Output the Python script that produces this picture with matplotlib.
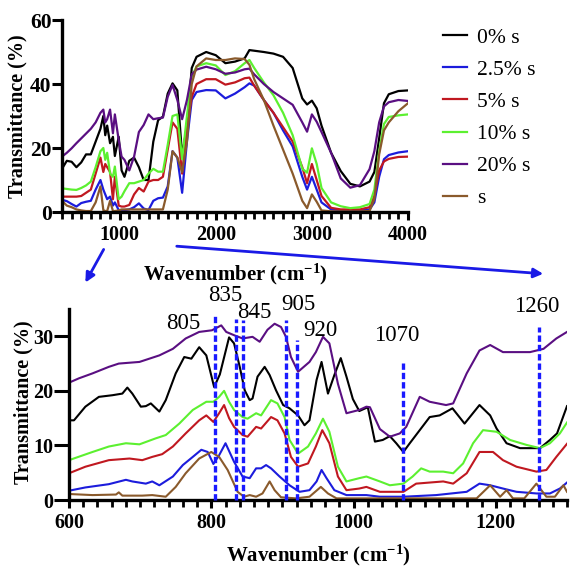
import matplotlib
matplotlib.use("Agg")
import matplotlib.pyplot as plt
from matplotlib.ticker import MultipleLocator

plt.rcParams['font.family'] = ['Liberation Serif', 'DejaVu Serif']
plt.rcParams['mathtext.fontset'] = 'custom'
plt.rcParams['mathtext.rm'] = 'Liberation Serif:bold'
plt.rcParams['mathtext.bf'] = 'Liberation Serif:bold'
plt.rcParams['mathtext.default'] = 'bf'

# ---------------- data ----------------
series_labels = ["0% s", "2.5% s", "5% s", "10% s", "20% s", "s"]
series_colors = ["#000000", "#1c1cdc", "#c01820", "#5cf030", "#5a0f82", "#8a5a2c"]

top_wn = [400, 450, 500, 550, 600, 650, 700, 750, 800, 830, 850, 870, 900, 930, 950, 990,
          1020, 1050, 1100, 1150, 1200, 1250, 1300, 1350, 1400, 1450, 1500, 1550, 1600, 1650,
          1700, 1750, 1800, 1900, 2000, 2100, 2200, 2300, 2350, 2400, 2500, 2600, 2700, 2800,
          2900, 2950, 3000, 3050, 3100, 3200, 3300, 3400, 3500, 3600, 3650, 3700, 3750, 3800,
          3900, 4000]

top_black = [13.5, 16, 15.7, 14, 15.5, 18, 18, 22, 26, 30, 24, 27, 21.5, 23.5, 17.5, 23.5,
             13, 11, 16, 17, 14, 10, 10, 22, 28.7, 29.8, 37, 40.2, 38, 17.5,
             27, 45, 48.5, 50, 49, 46.5, 47, 48, 50.6, 50.4, 50, 49.5, 48.5, 45,
             35.5, 33.6, 34.8, 32.4, 27, 18.5, 12.8, 8.8, 8, 9.5, 12.5, 23, 34, 36.8,
             37.8, 38]
top_blue = [3.8, 3.4, 2.5, 1.7, 2.8, 3.2, 3.5, 7, 10, 7, 5.5, 4, 4.8, 2, 3, 0.6,
            0.6, 0.6, 0.8, 1.5, 2.7, 1.1, 0.6, 3.5, 4.3, 4.5, 8, 19, 17, 6,
            22, 35, 37.5, 38.1, 38, 35.5, 37, 39, 40.2, 39.5, 35, 31, 25.5, 20.5,
            11, 7, 11, 7, 3, 0.8, 0.6, 0.6, 0.6, 0.8, 3, 11, 16.5, 17.8,
            18.6, 19]
top_red = [4.8, 4.8, 4.8, 4.8, 5, 6, 7, 12, 17, 12.5, 15, 14, 12.5, 4, 11, 2,
           1.7, 1.7, 2.2, 5.5, 7.5, 6.4, 9.5, 10, 10, 11, 19.5, 28, 26, 12,
           26, 36, 40, 41.5, 41.5, 39.8, 40.5, 41.8, 42, 39.5, 35, 31, 26.5, 22,
           14, 9, 15, 10, 5, 1.3, 0.8, 0.8, 0.8, 1.5, 5, 13, 15.8, 16.6,
           17.2, 17.3]
top_green = [7.4, 7.2, 7, 6.9, 7.5, 8.3, 9.5, 14, 19, 20, 16.3, 18.5, 12, 11, 14.2, 4,
             4.8, 6.5, 9, 9, 9.5, 10, 12, 13.5, 12.6, 12.6, 21, 30, 30.5, 16.5,
             30, 42.3, 45.5, 46.5, 45.8, 42.8, 44, 46.5, 47.5, 45, 40.5, 36.5, 31, 24,
             13.5, 12.3, 19.9, 15, 7.5, 3, 1.8, 1.2, 1.5, 2.5, 7, 19, 27.5, 29.7,
             30.2, 30.5]
top_purple = [17.3, 18.5, 19.9, 21.5, 23, 24.5, 26, 28, 31, 32, 28, 29, 32, 24.6, 30.5, 22.5,
              17.3, 16.3, 13, 17.3, 25, 27.2, 30.5, 29, 29.3, 29.5, 36, 39.7, 35, 29,
              35, 43, 44.5, 45.4, 44.6, 43.2, 43.6, 44.6, 44.8, 43, 40, 37.5, 35.5, 33.5,
              28, 25.1, 30.5, 28.2, 25, 18.5, 10.5, 7.6, 8.4, 13.4, 19, 28, 33, 34.3,
              35, 34.7]
top_brown = [3.5, 2, 1.5, 0.8, 0.5, 0.3, 0.3, 3, 8, 0.6, 0.3, 0.3, 3.5, 0.3, 0.3, 0.5,
             0.8, 0.8, 0.8, 0.8, 0.8, 0.8, 0.8, 0.8, 0.8, 0.8, 7, 19, 17, 12.5,
             22, 40, 45.5, 48, 47.5, 47.5, 48, 47.8, 46, 41.5, 35, 27, 19.5, 12,
             3.5, 1.2, 5.5, 3.2, 0.5, 0.2, 0.2, 0.2, 0.2, 0.3, 4, 18, 25.5, 28,
             31.5, 34]

bot_x_black = [600, 607, 623, 642, 661, 675, 682, 689, 701, 708, 715, 727, 736, 750, 762, 772, 783, 793,
               804, 812, 825, 832, 840, 847, 854, 858, 865, 875, 882, 891, 901, 910, 922, 931, 938,
               948, 955, 964, 973, 982, 990, 999, 1008, 1020, 1030, 1041, 1051, 1060, 1070, 1079,
               1093, 1107, 1121, 1139, 1156, 1177, 1192, 1201, 1215, 1234, 1262, 1276, 1286, 1300]
bot_y_black = [14.6, 14.6, 17.1, 18.9, 19.2, 19.5, 20.6, 19.5, 17.1, 17.2, 17.7, 16.2, 18.3, 23.2, 26.2, 25.9, 28, 26.5,
               20.7, 23, 29.8, 28.7, 24.4, 20.1, 18.3, 18.6, 22.6, 24.4, 22.9, 20.1, 17.4, 16.8, 15.5, 13.7, 14.6,
               22, 25.3, 19.5, 22.9, 26, 22.6, 18.5, 16.3, 17, 10.7, 11, 11.7, 10.4, 8.8, 10.4,
               12.8, 15.2, 15.5, 16.8, 14, 17.4, 15.5, 13.1, 10.4, 9.5, 9.5, 11, 12.2, 17.2]

bot_x_purple = [600, 614, 633, 656, 670, 699, 727, 746, 764, 783, 801, 814, 821, 832, 844, 858, 868,
                879, 889, 898, 905, 912, 922, 938, 947, 957, 966, 978, 990, 1008, 1018, 1023, 1037,
                1051, 1065, 1074, 1093, 1107, 1130, 1140, 1159, 1177, 1192, 1210, 1229, 1248, 1267,
                1285, 1300]
bot_y_purple = [21.5, 22.3, 23.2, 24.4, 25, 25.3, 26.5, 27.7, 29.6, 30.8, 31.1, 32, 30.8, 30.2, 29.6, 29.9, 29,
                31.2, 32.3, 31.7, 29.9, 26.2, 23.5, 25.3, 27.1, 29.9, 28.7, 21.3, 15.9, 16.5, 17.1, 17, 13,
                11.6, 12.2, 13.4, 18.9, 18, 17.4, 17.7, 23.2, 27.4, 28.4, 27.1, 27.1, 27.1, 27.7,
                29.6, 30.8]

bot_x_green = [600, 633, 656, 680, 699, 722, 736, 755, 774, 793, 803, 811, 818, 825, 832, 844, 851,
               863, 870, 884, 893, 903, 910, 922, 936, 947, 957, 966, 978, 990, 1008, 1018, 1037,
               1051, 1070, 1083, 1095, 1107, 1126, 1140, 1154, 1168, 1182, 1201, 1220, 1243, 1262,
               1276, 1290, 1300]
bot_y_green = [7.3, 8.8, 9.8, 10.4, 10.2, 11.3, 11.9, 14, 16.5, 18, 18, 18.9, 20, 18, 16.5, 15.2, 14.9,
               15.9, 15.5, 18.3, 17.7, 15.2, 11, 8.5, 9.8, 12.2, 14.9, 12.5, 6.1, 3.4, 4, 4.3, 3.4,
               2.7, 3, 4.3, 5.8, 5.2, 5.2, 4.9, 6.7, 10.4, 12.8, 12.5, 11, 10.1, 9.5,
               10.4, 12.2, 14.2]

bot_x_red = [600, 623, 656, 685, 703, 717, 731, 746, 764, 783, 793, 803, 811, 818, 825, 832, 844,
             851, 863, 870, 884, 893, 903, 912, 922, 936, 947, 956, 966, 978, 990, 1008, 1018,
             1037, 1070, 1088, 1107, 1126, 1140, 1159, 1177, 1196, 1210, 1229, 1257, 1271, 1285, 1300]
bot_y_red = [4.9, 6.1, 7.3, 7.6, 7.3, 7.9, 8.4, 9.8, 12.2, 14.6, 15.5, 14.3, 15.9, 17.4, 15, 13.4, 11.9,
             11.6, 13.4, 13.1, 15.2, 14.6, 12.2, 7.9, 6.1, 6.7, 9.8, 12.8, 10.4, 4.3, 1.8, 2.1, 2.4,
             1.5, 1.5, 3, 3.2, 3.4, 3, 4.9, 8.8, 8.8, 7.3, 6.1, 5.2, 5.5, 7.9, 10.3]

bot_x_blue = [600, 623, 656, 680, 689, 708, 717, 727, 746, 760, 774, 786, 795, 803, 811, 820, 832,
              844, 854, 863, 870, 877, 884, 896, 910, 924, 938, 948, 955, 962, 973, 990, 1018,
              1037, 1070, 1116, 1159, 1177, 1192, 1210, 1229, 1257, 1276, 1290, 1300]
bot_y_blue = [1.7, 2.3, 2.9, 3.7, 3.4, 3, 3.4, 2.7, 4.3, 6.4, 7.9, 9.2, 8.8, 6.6, 8.2, 10.4, 7,
              4.3, 4, 5.8, 5.8, 6.4, 5.8, 4.3, 2.7, 1.5, 1.8, 3.4, 5.5, 4, 1.8, 0.9, 0.9,
              0.6, 0.6, 0.9, 1.5, 3, 2.7, 2.1, 1.5, 1.2, 1.2, 2.1, 3.2]

bot_x_brown = [600, 633, 666, 670, 675, 703, 717, 736, 750, 764, 783, 800, 811, 823, 837, 846, 854,
               863, 872, 882, 889, 898, 919, 938, 954, 964, 976, 1037, 1173, 1192, 1206, 1215,
               1224, 1240, 1257, 1271, 1283, 1295, 1300]
bot_y_brown = [1.1, 0.9, 1.0, 1.4, 0.8, 0.8, 0.9, 0.6, 2.4, 4.9, 7.6, 8.8, 7.9, 5.5, 1.5, 0.6, 0.9,
               0.6, 1.2, 3.4, 1.8, 0.5, 0.3, 0.6, 2.4, 1.2, 0.3, 0.3, 0.3, 2.7, 0.6, 1.8,
               0.3, 0.3, 3, 0.6, 0.6, 2.7, 1.5]

peak_labels = ["805", "835", "845", "905", "920", "1070", "1260"]
peak_pos = [805, 835, 845, 905, 920, 1070, 1260]
peak_line_top = [34.1, 33.2, 32.9, 32.9, 29.3, 25.7, 31.7]
peak_text_x = [761, 819, 861, 922, 953, 1061, 1257]
peak_text_y = [32.4, 37.5, 34.3, 35.8, 31.0, 30.2, 35.4]

# ---------------- figure ----------------
W, H = 570, 569
fig = plt.figure(figsize=(W / 100, H / 100), dpi=100)

ax1 = fig.add_axes([62 / W, 1 - 212 / H, (408 - 62) / W, 192 / H])
ax2 = fig.add_axes([69 / W, 1 - 500 / H, (567 - 69) / W, 191 / H])

top_series = [top_black, top_blue, top_red, top_green, top_purple, top_brown]
bot_series = [(bot_x_black, bot_y_black), (bot_x_blue, bot_y_blue), (bot_x_red, bot_y_red),
              (bot_x_green, bot_y_green), (bot_x_purple, bot_y_purple), (bot_x_brown, bot_y_brown)]

handles = []
for ys, col, lab in zip(top_series, series_colors, series_labels):
    h, = ax1.plot(top_wn, ys, color=col, lw=1.6, label=lab, solid_joinstyle='round')
    handles.append(h)
for (xs, ys), col in zip(bot_series, series_colors):
    ax2.plot(xs, ys, color=col, lw=1.5, solid_joinstyle='round')

for p, top in zip(peak_pos, peak_line_top):
    ax2.plot([p, p], [0, top], color="#1a1aff", lw=2.4, dashes=(1.9, 0.9), clip_on=False, zorder=5)
for t, x, y in zip(peak_labels, peak_text_x, peak_text_y):
    ax2.text(x, y, t, ha='center', va='center', fontsize=16.5, clip_on=False)

ax1.set_xlim(400, 4000)
ax1.set_ylim(0, 60)
ax1.xaxis.set_major_locator(MultipleLocator(1000))
ax1.xaxis.set_minor_locator(MultipleLocator(100))
ax1.yaxis.set_major_locator(MultipleLocator(20))

ax2.set_xlim(600, 1300)
ax2.set_ylim(0, 35)
ax2.xaxis.set_major_locator(MultipleLocator(200))
ax2.xaxis.set_minor_locator(MultipleLocator(20))
ax2.set_yticks([0, 10, 20, 30])

for ax in (ax1, ax2):
    for s in ('top', 'right'):
        ax.spines[s].set_visible(False)
    for s in ('left', 'bottom'):
        ax.spines[s].set_linewidth(2.4)
    ax.tick_params(axis='x', which='major', direction='out', width=2.2, length=6, pad=3,
                   labelsize=14.5)
    ax.tick_params(axis='x', which='minor', direction='out', width=2.0, length=5)
    ax.set_ylabel("Transmittance (%)", fontsize=14.5, fontweight='bold')
    ax.set_xlabel("Wavenumber (cm$^{-1}$)", fontsize=15, fontweight='bold')

ax1.tick_params(axis='y', which='major', direction='out', width=2.2, length=7, pad=0.5,
                labelsize=15.5)
ax2.tick_params(axis='y', which='major', direction='out', width=2.2, length=10.5, pad=0.5,
                labelsize=14.5)
for ax in (ax1, ax2):
    for lbl in ax.get_xticklabels() + ax.get_yticklabels():
        lbl.set_fontweight('bold')

ax1.xaxis.set_label_coords(0.5, -0.26)
ax1.yaxis.set_label_coords(-0.10, 0.5)
ax2.xaxis.set_label_coords(0.5, -0.224)
ax2.yaxis.set_label_coords(-0.072, 0.51)

fig.legend(handles=handles, labels=series_labels, loc='upper left',
           bbox_to_anchor=(434 / W, 1 - 19 / H), frameon=False, fontsize=15.5,
           handlelength=1.15, handletextpad=0.45, labelspacing=0.56, borderaxespad=0)

# arrows from the overview panel to the zoomed panel
arrow_col = "#1a1ae6"
fig.patches.append(matplotlib.patches.FancyArrowPatch(
    (105 / W, 1 - 247 / H), (84 / W, 1 - 285 / H), transform=fig.transFigure,
    arrowstyle='-|>', mutation_scale=14, color=arrow_col, lw=2))
fig.patches.append(matplotlib.patches.FancyArrowPatch(
    (174 / W, 1 - 246 / H), (546 / W, 1 - 274 / H), transform=fig.transFigure,
    arrowstyle='-|>', mutation_scale=14, color=arrow_col, lw=2))

fig.savefig("out.png", dpi=100)
